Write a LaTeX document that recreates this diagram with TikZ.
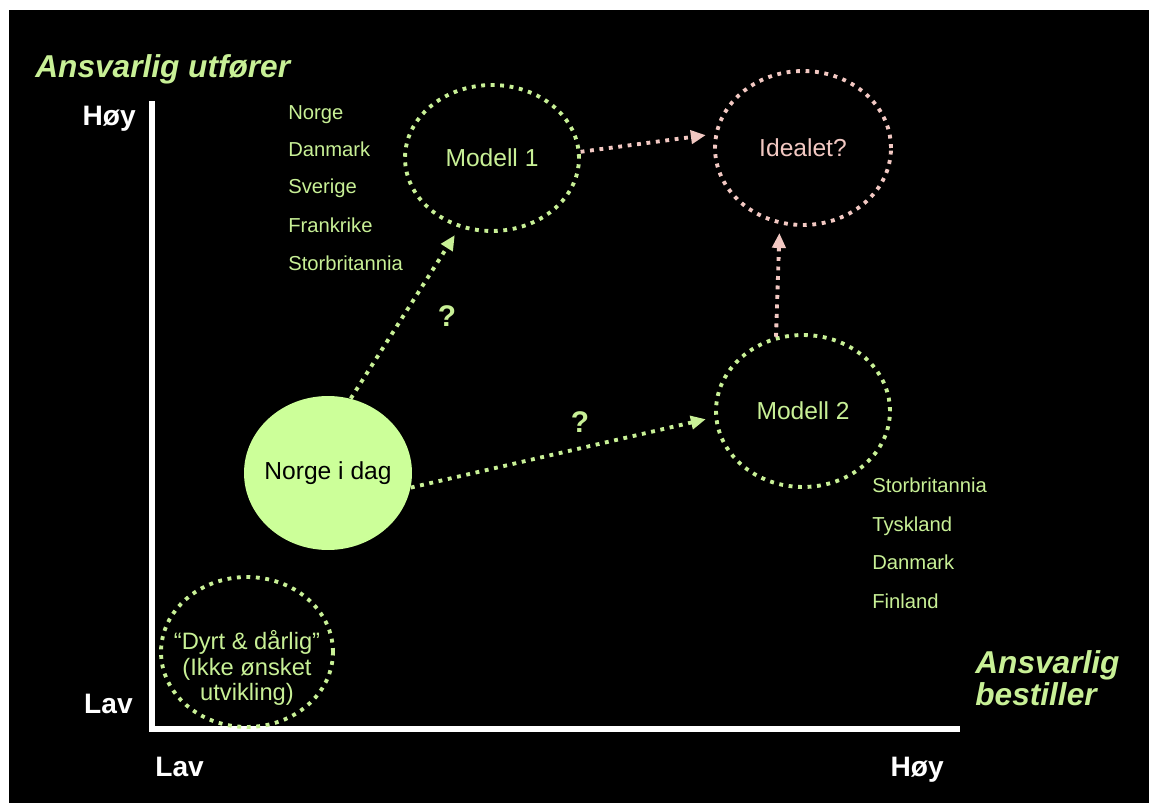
\documentclass[tikz,border=0pt]{standalone}
\usepackage{fontspec}
\setmainfont{Liberation Sans}
\usetikzlibrary{shapes.geometric,arrows.meta}
\definecolor{lgreen}{HTML}{C8F096}
\definecolor{lpink}{HTML}{F2C8C2}
\definecolor{nfill}{HTML}{CCFF99}
\begin{document}
\begin{tikzpicture}[x=0.02cm,y=-0.02cm,
  dots/.style={line width=2.2pt, dash pattern=on 2.2pt off 3.2pt},
  ring/.style={ellipse, dots, inner sep=0pt},
  arr/.style={dots, -{Triangle[length=8.5pt,width=7.5pt]}, shorten >=5pt},
  mainlbl/.style={font=\fontsize{14}{16}\selectfont, inner sep=0pt},
  listlbl/.style={text=lgreen, font=\fontsize{11.5}{13}\selectfont, anchor=base west, inner sep=0pt},
  axislbl/.style={text=white, font=\bfseries\fontsize{16}{18}\selectfont, inner sep=0pt},
  axistitle/.style={text=lgreen, font=\bfseries\itshape\fontsize{18}{20.5}\selectfont, inner sep=0pt, align=left},
  qmark/.style={text=lgreen, font=\bfseries\fontsize{17}{19}\selectfont, inner sep=0pt}]
\useasboundingbox (0,0) rectangle (1149,803);
\fill[white] (0,0) rectangle (1149,803);
\fill[black] (9,10) rectangle (1149,803);

% axes
\coordinate (ytop) at (152,101);
\coordinate (xend) at (960,729);
\draw[white, line width=3pt] (ytop) |- (xend);

% axis titles and ticks
\node[axistitle, anchor=base west] (ut) at (35,78) {Ansvarlig utfører};
\node[axistitle, anchor=base west] (be) at (975,705) {Ansvarlig\\[-2.5pt]bestiller};
\node[axislbl, anchor=base east] (yhi) at (136,126) {Høy};
\node[axislbl, anchor=base east] (ylo) at (133,713) {Lav};
\node[axislbl, anchor=base west] (xlo) at (155,776) {Lav};
\node[axislbl, anchor=base east] (xhi) at (944,776) {Høy};

% ellipses
\node[ring, draw=lgreen, minimum width=3.48cm, minimum height=2.92cm] (m1) at (492,158) {};
\node[ring, draw=lpink, minimum width=3.52cm, minimum height=3.08cm] (ideal) at (803,148) {};
\node[ring, draw=lgreen, minimum width=3.48cm, minimum height=3.04cm] (m2) at (803,411) {};
\node[ellipse, fill=nfill, inner sep=0pt, minimum width=3.36cm, minimum height=3.08cm] (ndag) at (328,473) {};
\node[ring, draw=lgreen, minimum width=3.44cm, minimum height=3.0cm] (dyrt) at (247,652) {};

% ellipse texts
\node[mainlbl, text=lgreen] (m1t) at (m1) {Modell 1};
\node[mainlbl, text=lpink] (idealt) at (ideal) {Idealet?};
\node[mainlbl, text=lgreen] (m2t) at (m2) {Modell 2};
\node[mainlbl, text=black] (ndagt) at (ndag) {Norge i dag};
\node[text=lgreen, inner sep=0pt, align=center, font=\fontsize{13.5}{14.6}\selectfont] (dyrtt) at (247,668)
  {``Dyrt \& dårlig''\\(Ikke ønsket\\utvikling)};

% lists
\node[listlbl] (l1) at (288,120) {Norge};
\node[listlbl] (l2) at (288,157) {Danmark};
\node[listlbl] (l3) at (288,194) {Sverige};
\node[listlbl] (l4) at (288,233) {Frankrike};
\node[listlbl] (l5) at (288,271) {Storbritannia};
\node[listlbl] (r1) at (872,493) {Storbritannia};
\node[listlbl] (r2) at (872,531) {Tyskland};
\node[listlbl] (r3) at (872,569) {Danmark};
\node[listlbl] (r4) at (872,608) {Finland};

% question marks
\node[qmark] (q1) at (447,316) {?};
\node[qmark] (q2) at (580,422) {?};

% connectors
\draw[arr, lgreen] (ndag.73) -- (m1.245);
\draw[arr, lgreen] (ndag.-10) -- (m2.184);
\draw[arr, lpink] (m1.4) -- (ideal.171);
\draw[arr, lpink] (m2.110) -- (ideal.253);
\end{tikzpicture}
\end{document}
